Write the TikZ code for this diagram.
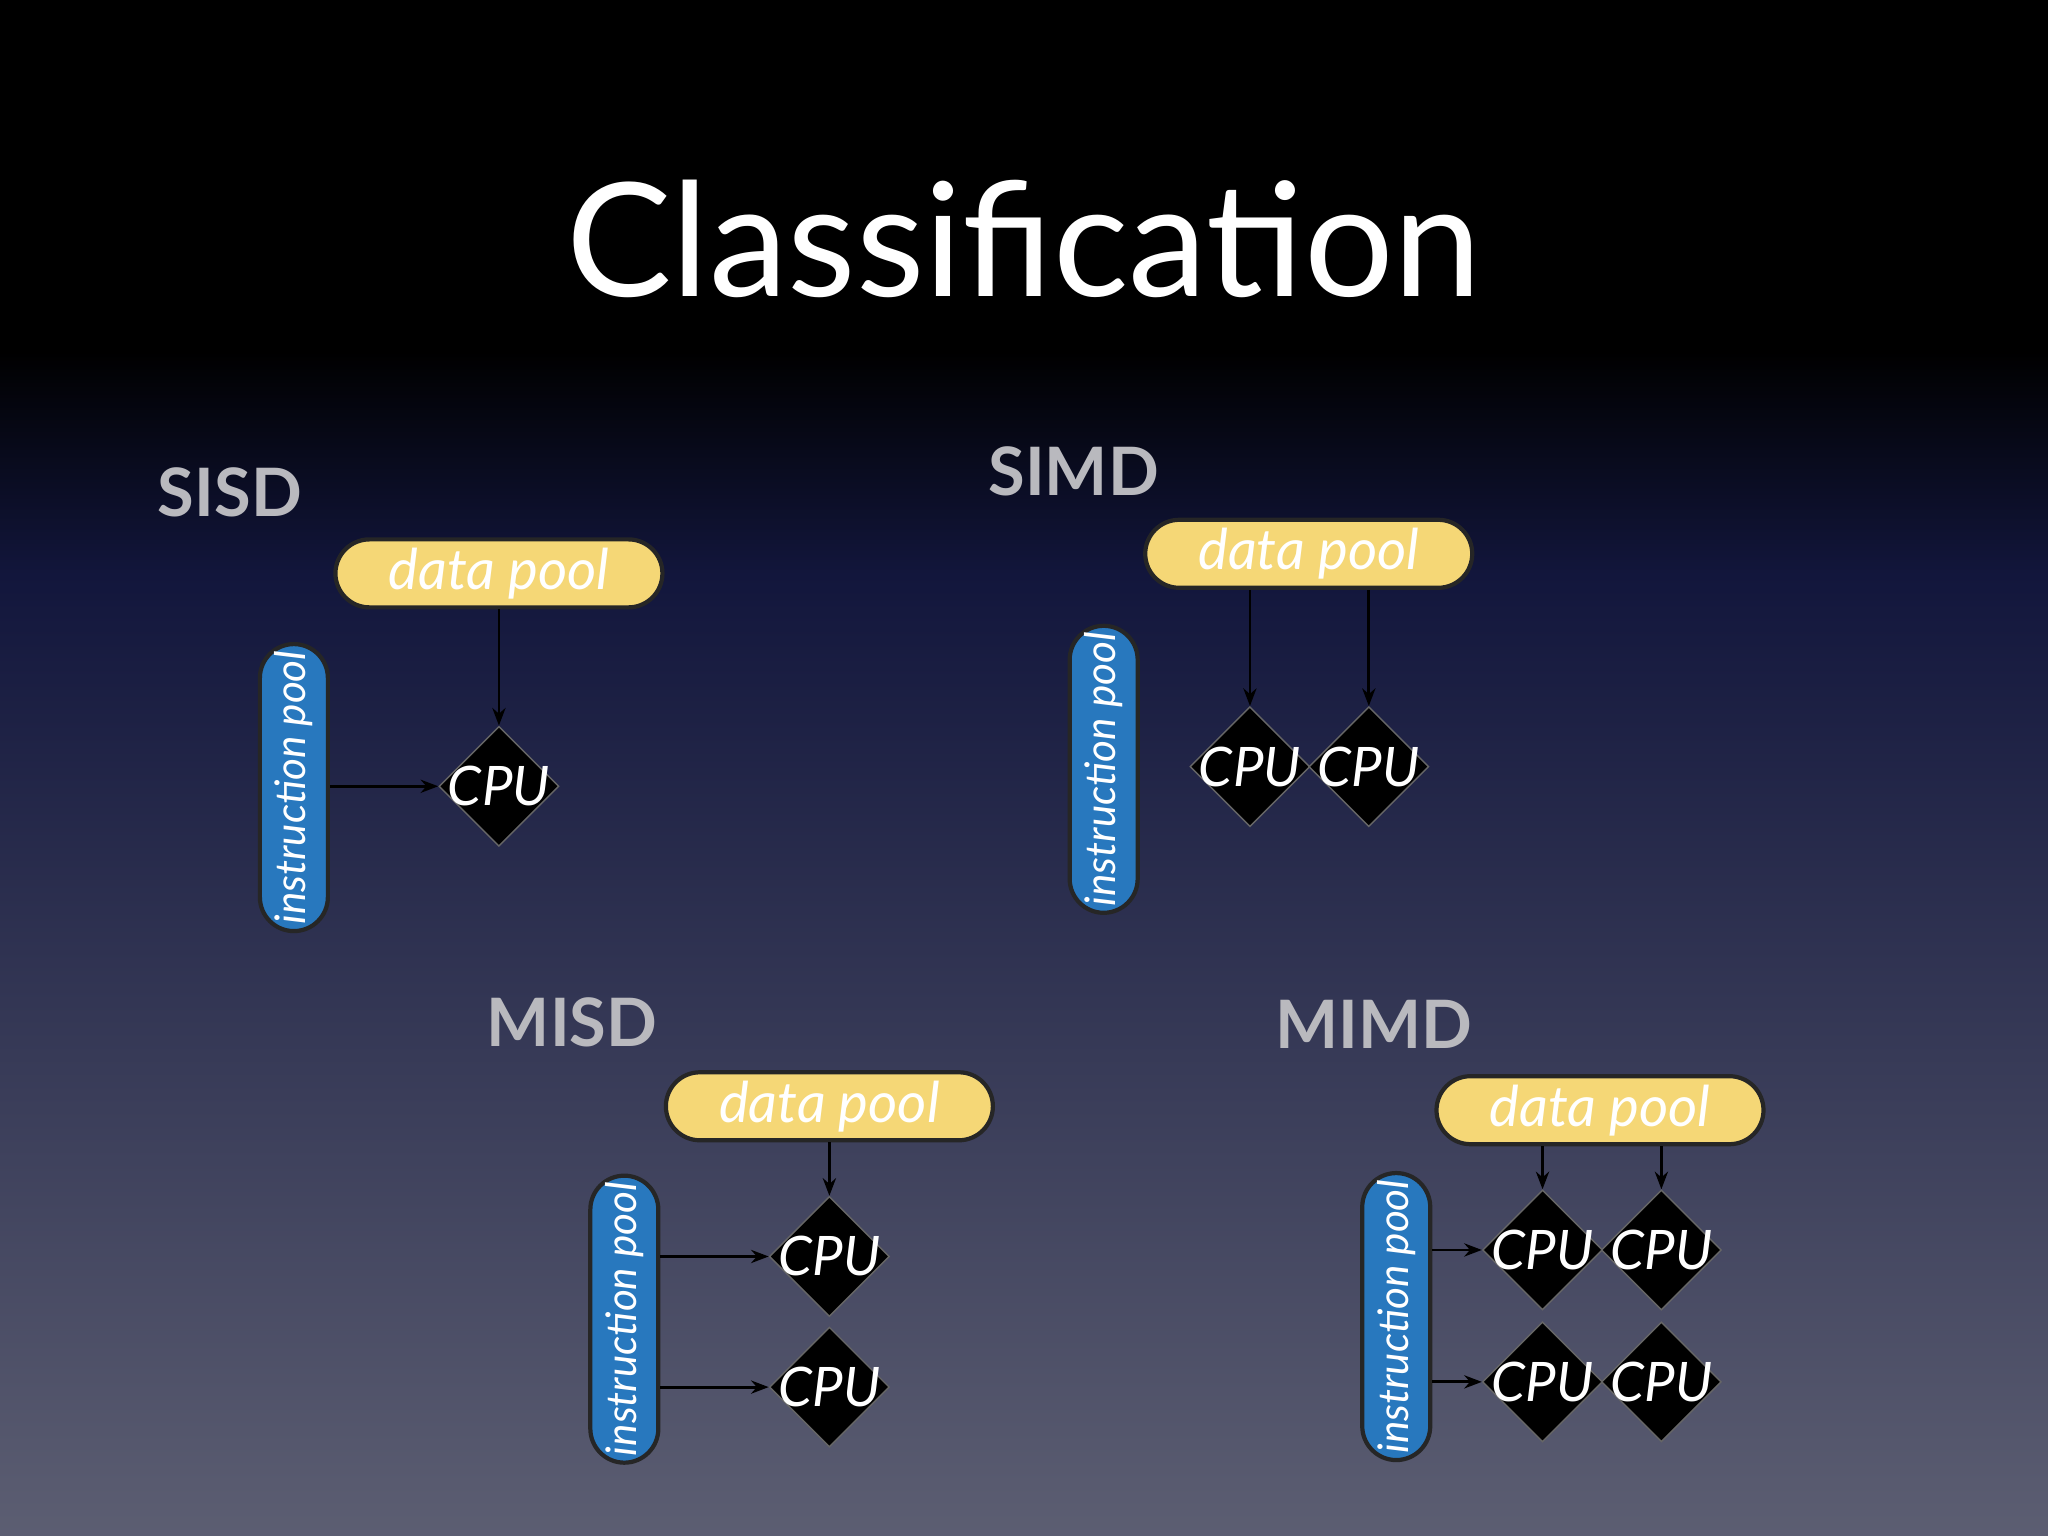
\documentclass[tikz,border=0pt]{standalone}
\usepackage{fontspec}
\setmainfont{Lato}
\usetikzlibrary{shapes.geometric,arrows.meta}
\definecolor{bgA}{RGB}{0,0,0}
\definecolor{bgB}{RGB}{18,22,60}
\definecolor{bgC}{RGB}{92,94,114}
\definecolor{ylw}{RGB}{245,215,118}
\definecolor{blu}{RGB}{40,120,190}
\definecolor{lbl}{RGB}{185,185,190}
\begin{document}
\begin{tikzpicture}[x=0.01306cm,y=-0.01306cm,
  dpool/.style={draw=black!85,line width=1.2pt,fill=ylw,rounded corners=0.34cm,minimum width=3.27cm,minimum height=0.68cm,inner sep=0pt,text=white,font=\fontsize{16}{16}\itshape\selectfont},
  ipool/.style={draw=black!85,line width=1.2pt,fill=blu,rounded corners=0.34cm,minimum width=2.87cm,minimum height=0.68cm,inner sep=0pt,rotate=90,text=white,font=\fontsize{12}{12}\itshape\selectfont},
  cpu/.style={diamond,draw=black!60,fill=black,minimum width=1.2cm,minimum height=1.2cm,inner sep=0pt,label={[text=white,font=\fontsize{15.5}{15.5}\itshape\selectfont]center:CPU}},
  ttl/.style={text=lbl,font=\fontsize{19}{19}\bfseries\selectfont},
  arr/.style={-{Stealth[length=5pt]},black,line width=0.8pt}]
\useasboundingbox (0,0) rectangle (1568,1176);
\shade[top color=bgA,bottom color=bgA] (0,0) rectangle (1568,270);
\shade[top color=bgA,bottom color=bgB] (0,269) rectangle (1568,440);
\shade[top color=bgB,bottom color=bgC] (0,439) rectangle (1568,1176);
\node[text=white,font=\fontsize{45}{45}\selectfont] (title) at (784,183) {Classification};
% SISD
\node[ttl] (l1) at (176,377) {SISD};
\node[dpool] (d1) at (382,439) {data pool};
\node[ipool] (i1) at (225,603) {instruction pool};
\node[cpu] (c1) at (382,602) {};
\draw[arr] (d1.south) -- (c1.north);
\draw[arr] (i1.south |- c1) -- (c1.west);
% SIMD
\node[ttl] (l2) at (822,361) {SIMD};
\node[dpool] (d2) at (1002,424) {data pool};
\node[ipool] (i2) at (845,589) {instruction pool};
\node[cpu] (c21) at (957,587) {};
\node[cpu] (c22) at (1048,587) {};
\draw[arr] (c21 |- d2.south) -- (c21.north);
\draw[arr] (c22 |- d2.south) -- (c22.north);
% MISD
\node[ttl] (l3) at (438,783) {MISD};
\node[dpool] (d3) at (635,847) {data pool};
\node[ipool] (i3) at (478,1010) {instruction pool};
\node[cpu] (c31) at (635,962) {};
\node[cpu] (c32) at (635,1062) {};
\draw[arr] (d3.south) -- (c31.north);
\draw[arr] (i3.south |- c31) -- (c31.west);
\draw[arr] (i3.south |- c32) -- (c32.west);
% MIMD
\node[ttl] (l4) at (1052,784) {MIMD};
\node[dpool] (d4) at (1225,850) {data pool};
\node[ipool] (i4) at (1069,1008) {instruction pool};
\node[cpu] (c41) at (1181,957) {};
\node[cpu] (c42) at (1272,957) {};
\node[cpu] (c43) at (1181,1058) {};
\node[cpu] (c44) at (1272,1058) {};
\draw[arr] (c41 |- d4.south) -- (c41.north);
\draw[arr] (c42 |- d4.south) -- (c42.north);
\draw[arr] (i4.south |- c41) -- (c41.west);
\draw[arr] (i4.south |- c43) -- (c43.west);
\end{tikzpicture}
\end{document}
